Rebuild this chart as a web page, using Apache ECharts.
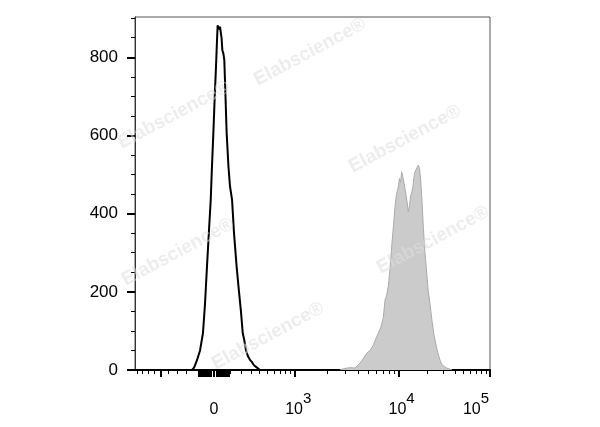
<!DOCTYPE html>
<html>
<head>
<meta charset="utf-8">
<script src="https://cdn.jsdelivr.net/npm/echarts@6/dist/echarts.min.js"></script>
<style>
html,body{margin:0;padding:0;background:#fff;}
#c{width:600px;height:427px;}
</style>
</head>
<body>
<div id="c"></div>
<script>
// ---- data (display channel 0..256, event count) ----
const blackChannel = [36.1, 41.1, 42.6, 44.7, 46.9, 49.0, 50.5, 51.9, 53.4, 54.6, 55.5, 56.5, 57.5, 58.4, 59.1, 59.6, 60.2, 60.8, 61.3, 61.8, 62.4, 63.0, 63.7, 64.4, 64.9, 66.1, 67.4, 68.5, 70.0, 71.4, 73.3, 75.0, 76.4, 77.7, 78.6, 80.1, 81.5, 82.9, 84.4, 85.8, 87.3, 88.7, 90.1, 93.8];
const blackCount   = [0, 0, 6, 25, 50, 94, 170, 264, 360, 435, 520, 606, 700, 775, 840, 882, 872, 869, 878, 876, 850, 818, 810, 793, 740, 606, 520, 470, 435, 350, 264, 200, 150, 94, 80, 50, 35, 26, 20, 12, 8, 3, 0, 0];
const grayChannel  = [147.8, 151.4, 155.0, 158.7, 162.3, 164.4, 167.1, 169.5, 171.6, 174.3, 175.5, 177.4, 179.1, 180.3, 181.4, 182.7, 183.9, 185.1, 186.4, 187.5, 188.6, 189.9, 190.7, 191.5, 192.3, 193.1, 194.0, 195.1, 196.2, 197.1, 198.0, 198.7, 199.5, 200.5, 201.2, 201.9, 203.0, 204.3, 205.2, 206.0, 207.0, 207.9, 209.1, 210.4, 211.5, 212.7, 214.2, 215.6, 217.6, 218.9, 219.9, 221.2, 222.8, 224.8, 225.9, 228.6];
const grayCount    = [0, 4, 6, 5, 18, 28, 43, 50, 62, 85, 95, 110, 135, 179, 190, 215, 260, 315, 370, 418, 450, 469, 490, 480, 507, 495, 478, 455, 430, 405, 420, 445, 452, 470, 495, 507, 512, 524, 515, 486, 430, 367, 300, 247, 200, 170, 125, 90, 55, 38, 26, 15, 9, 5, 3, 0];

// ---- tick values (raw fluorescence) ----
const xLabelValues = [0, 1000, 10000, 100000];
const xLabelBase   = ['0', '10', '10', '10'];
const xLabelExp    = ['', '3', '4', '5'];
const xMajorValues = [-500, 0, 1000, 10000, 100000];
const xMinorValues = [-900, -800, -700, -600, -400, -300, -200, -100, 100, 200, 300, 400, 500, 600, 700, 800, 900,
  2000, 3000, 4000, 5000, 6000, 7000, 8000, 9000, 20000, 30000, 40000, 50000, 60000, 70000, 80000, 90000];
const xZeroValues  = [-90, -80, -70, -60, -50, -40, -30, -20, -10, 10, 20, 30, 40, 50, 60, 70, 80, 90];
const yLabelValues = [0, 200, 400, 600, 800];
const yMinorValues = [50, 100, 150, 250, 300, 350, 450, 500, 550, 650, 700, 750, 850, 900];

const FONT = 'Liberation Sans, Arial, Helvetica, sans-serif';
const X_MIN = 0, X_MAX = 256, Y_MIN = 0, Y_MAX = 903;
const ZERO_CH = 56.97, TOP_RAW = 100000, W = 700, P = 0.77;
const K = (X_MAX - ZERO_CH) / Math.pow(Math.asinh(TOP_RAW / W), P) - 1e-9;

// biexponential-like display transform: raw value -> display channel
function chan(v) {
  const s = v < 0 ? -1 : 1;
  const c = ZERO_CH + K * s * Math.pow(Math.asinh(Math.abs(v) / W), P);
  return Math.min(X_MAX, Math.max(X_MIN, c));
}

const labelChans = xLabelValues.map(chan);
function xLabelFmt(value) {
  let best = 0, bd = Infinity;
  labelChans.forEach((c, i) => { const d = Math.abs(c - value); if (d < bd) { bd = d; best = i; } });
  if (!xLabelExp[best]) return '{b|' + xLabelBase[best] + '}';
  if (best === xLabelValues.length - 1) return '{b|' + xLabelBase[best] + '}{supR|' + xLabelExp[best] + '}';
  return '{bp|' + xLabelBase[best] + '}{sup|' + xLabelExp[best] + '}';
}

function pairs(xs, ys) { return xs.map((x, i) => [x, ys[i]]); }

const baseX = {
  type: 'value', gridIndex: 0, position: 'bottom', min: X_MIN, max: X_MAX,
  splitLine: { show: false }, axisLine: { show: false }, axisLabel: { show: false }
};
const baseY = {
  type: 'value', gridIndex: 0, position: 'left', min: Y_MIN, max: Y_MAX,
  splitLine: { show: false }, axisLine: { show: false }, axisLabel: { show: false }
};

const wm = [[310, 52], [174, 115], [405, 139], [433, 240], [178, 252], [268, 336]];

const chart = echarts.init(document.getElementById('c'), null, { renderer: 'canvas' });
chart.setOption({
  animation: false,
  backgroundColor: '#fff',
  grid: { left: 135, right: 110, top: 17, bottom: 57, show: true, borderColor: '#555', borderWidth: 1, backgroundColor: 'transparent' },
  xAxis: [
    Object.assign({}, baseX, {
      axisLine: { show: true, lineStyle: { color: '#000', width: 2 } },
      axisTick: { show: true, length: 7, lineStyle: { color: '#000', width: 2 }, customValues: xMajorValues.map(chan) },
      axisLabel: {
        show: true, customValues: labelChans, margin: 21, formatter: xLabelFmt,
        showMinLabel: true, showMaxLabel: true, hideOverlap: false,
        rich: {
          b:   { fontFamily: FONT, fontSize: 16, color: '#000', lineHeight: 27, verticalAlign: 'bottom' },
          bp:  { fontFamily: FONT, fontSize: 16, color: '#000', lineHeight: 27, verticalAlign: 'bottom', padding: [0, 0, 0, 6] },
          sup: { fontFamily: FONT, fontSize: 15, color: '#000', lineHeight: 27, verticalAlign: 'top' },
          supR:{ fontFamily: FONT, fontSize: 15, color: '#000', lineHeight: 27, verticalAlign: 'top', padding: [0, 28, 0, 0] }
        }
      }
    }),
    Object.assign({}, baseX, {
      axisTick: { show: true, length: 4, lineStyle: { color: '#000', width: 1 }, customValues: xMinorValues.map(chan) }
    }),
    Object.assign({}, baseX, {
      axisTick: { show: true, length: 7, lineStyle: { color: '#000', width: 2 }, customValues: xZeroValues.map(chan) }
    })
  ],
  yAxis: [
    Object.assign({}, baseY, {
      axisLine: { show: true, lineStyle: { color: '#333', width: 1 } },
      axisTick: { show: true, length: 8, lineStyle: { color: '#000', width: 2 }, customValues: yLabelValues },
      axisLabel: { show: true, customValues: yLabelValues, margin: 17, fontFamily: FONT, fontSize: 17, color: '#000' }
    }),
    Object.assign({}, baseY, {
      axisTick: { show: true, length: 4, lineStyle: { color: '#000', width: 1 }, customValues: yMinorValues }
    })
  ],
  series: [
    {
      type: 'line', xAxisIndex: 0, yAxisIndex: 0, data: pairs(grayChannel, grayCount),
      showSymbol: false, symbol: 'none', z: 2,
      lineStyle: { color: '#aaaaaa', width: 1 },
      areaStyle: { color: '#cbcbcb', opacity: 1 }
    },
    {
      type: 'line', xAxisIndex: 0, yAxisIndex: 0, data: pairs(blackChannel, blackCount),
      showSymbol: false, symbol: 'none', z: 3,
      lineStyle: { color: '#000', width: 2 }
    }
  ],
  graphic: wm.map(p => ({
    type: 'text', x: p[0], y: p[1], rotation: 0.49, z: 100, silent: true,
    style: { text: 'Elabscience®', font: 'bold 19px ' + FONT, fill: 'rgba(222,222,222,0.55)', align: 'center', verticalAlign: 'middle' }
  }))
});
</script>
</body>
</html>
